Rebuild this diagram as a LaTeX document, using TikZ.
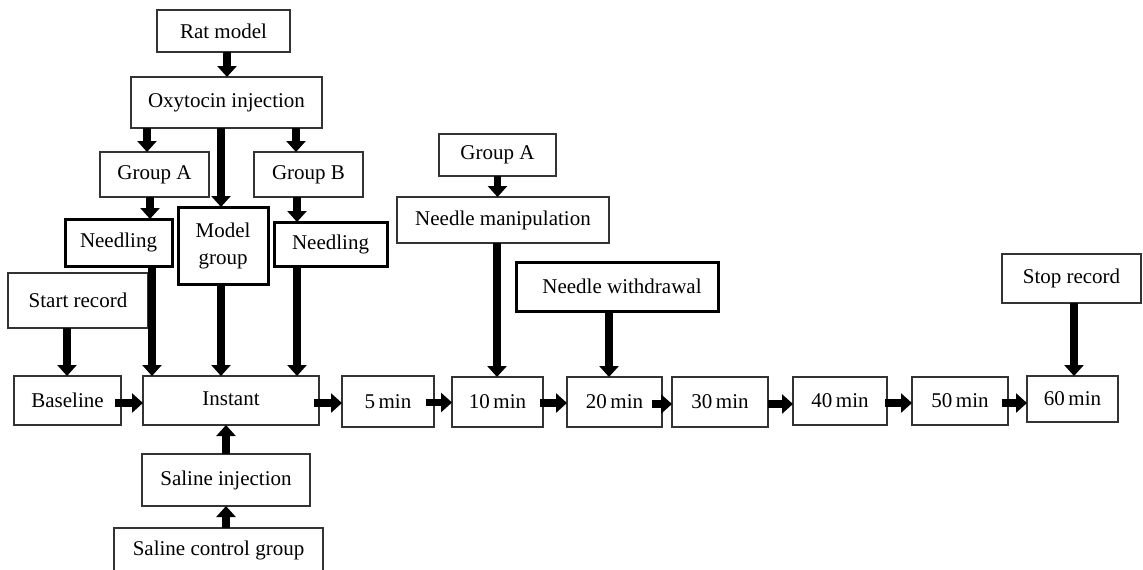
\documentclass[tikz,border=0pt]{standalone}
\usepackage{fontspec}
\setmainfont{Liberation Serif}
\usetikzlibrary{arrows.meta}
\begin{document}
\begin{tikzpicture}[x=0.5pt,y=-0.5pt,
  box/.style={draw=black!80, line width=0.7pt, fill=white, inner sep=0pt, outer sep=0pt,
    align=center, font=\fontsize{10.5}{13.5}\selectfont},
  tbox/.style={box, draw=black, line width=1.5pt},
  arr/.style={line width=3.6pt, black, -{Triangle[width=9.5pt,length=5.5pt]}}]
\useasboundingbox[fill=white] (0,0) rectangle (1143,569);
% left tree
\node[box, minimum width=66.5pt, minimum height=21pt] (rat) at (223.5,31) {Rat model};
\node[box, minimum width=95.5pt, minimum height=25.5pt] (oxy) at (226.5,102.5) {Oxytocin injection};
\node[box, minimum width=54.5pt, minimum height=22.5pt] (gA) at (154.5,174.5) {Group A};
\node[box, minimum width=54.5pt, minimum height=22.5pt] (gB) at (308.5,174.5) {Group B};
\node[tbox, minimum width=53.5pt, minimum height=23.5pt] (ndA) at (118.5,242.5) {Needling};
\node[tbox, minimum width=45pt, minimum height=38.5pt] (mdl) at (223,245.5) {Model\\group};
\node[tbox, minimum width=56.5pt, minimum height=22pt] (ndB) at (330.5,244) {Needling};
\node[box, minimum width=70pt, minimum height=27.5pt] (start) at (78,300.5) {Start record};
\node[box, minimum width=53.5pt, minimum height=24.5pt] (base) at (67.5,400.5) {Baseline};
\node[box, minimum width=88pt, minimum height=24.5pt] (inst) at (231,400.5) {\raisebox{1.5pt}{Instant}};
\node[box, minimum width=84pt, minimum height=26pt] (salinj) at (226,480) {Saline injection};
\node[box, minimum width=104.5pt, minimum height=22pt] (salctl) at (218.5,550) {Saline control group};
% timeline
\node[box, minimum width=46pt, minimum height=25.5pt] (m5) at (388,401.5) {5\,min};
\node[box, minimum width=45.5pt, minimum height=25pt] (m10) at (497.5,402) {10\,min};
\node[box, minimum width=47.5pt, minimum height=25pt] (m20) at (614.5,402) {20\,min};
\node[box, minimum width=48pt, minimum height=25pt] (m30) at (720,402) {30\,min};
\node[box, minimum width=47pt, minimum height=24pt] (m40) at (840,401) {40\,min};
\node[box, minimum width=48pt, minimum height=24pt] (m50) at (960,401) {50\,min};
\node[box, minimum width=45.5pt, minimum height=23pt] (m60) at (1072.5,399) {60\,min};
\node[box, minimum width=58.5pt, minimum height=21pt] (gA2) at (497.5,155) {Group A};
\node[box, minimum width=106pt, minimum height=23pt] (nman) at (503,220) {Needle manipulation};
\node[tbox, minimum width=101pt, minimum height=24.5pt] (nwd) at (617,286.5) {\hspace{5pt}Needle withdrawal};
\node[box, minimum width=69.5pt, minimum height=24.5pt] (stop) at (1071.5,278.5) {Stop record};
% vertical arrows
\draw[arr] ([xshift=1.75pt]rat.south) coordinate (t) -- (t |- oxy.north);
\draw[arr] ([xshift=-39.75pt]oxy.south) coordinate (t) -- (t |- gA.north);
\draw[arr] ([xshift=-2.75pt]oxy.south) coordinate (t) -- (t |- mdl.north);
\draw[arr] ([xshift=34.75pt]oxy.south) coordinate (t) -- (t |- gB.north);
\draw[arr] ([xshift=-2.25pt]gA.south) coordinate (t) -- (t |- ndA.north);
\draw[arr] ([xshift=-5.75pt]gB.south) coordinate (t) -- (t |- ndB.north);
\draw[arr] ([xshift=16.75pt]ndA.south) coordinate (t) -- (t |- inst.north);
\draw[arr] ([xshift=-1pt]mdl.south) coordinate (t) -- (t |- inst.north);
\draw[arr] ([xshift=-16.75pt]ndB.south) coordinate (t) -- (t |- inst.north);
\draw[arr] ([xshift=-5.5pt]start.south) coordinate (t) -- (t |- base.north);
\draw[arr] (salinj.north) coordinate (t) -- (t |- inst.south);
\draw[arr] ([xshift=3.75pt]salctl.north) coordinate (t) -- (t |- salinj.south);
\draw[arr] (gA2.south) coordinate (t) -- (t |- nman.north);
\draw[arr] ([xshift=-3pt]nman.south) coordinate (t) -- (t |- m10.north);
\draw[arr] ([xshift=-4pt]nwd.south) coordinate (t) -- (t |- m20.north);
\draw[arr] ([xshift=1.25pt]stop.south) coordinate (t) -- (t |- m60.north);
% horizontal arrows
\draw[arr] ([yshift=-1.25pt,xshift=-3pt]base.east) coordinate (t) -- (t -| inst.west);
\draw[arr] ([yshift=-1.25pt,xshift=-2.5pt]inst.east) coordinate (t) -- (t -| m5.west);
\draw[arr] ([yshift=-0.5pt,xshift=-4pt]m5.east) coordinate (t) -- (t -| m10.west);
\draw[arr] ([yshift=-0.5pt,xshift=-1.5pt]m10.east) coordinate (t) -- (t -| m20.west);
\draw[arr] ([yshift=-1pt,xshift=-5pt]m20.east) coordinate (t) -- (t -| m30.west);
\draw[arr] ([yshift=-1pt]m30.east) coordinate (t) -- (t -| m40.west);
\draw[arr] ([yshift=-1pt,xshift=-1pt]m40.east) coordinate (t) -- (t -| m50.west);
\draw[arr] ([yshift=-1pt,xshift=-3pt]m50.east) coordinate (t) -- (t -| m60.west);
\end{tikzpicture}
\end{document}
